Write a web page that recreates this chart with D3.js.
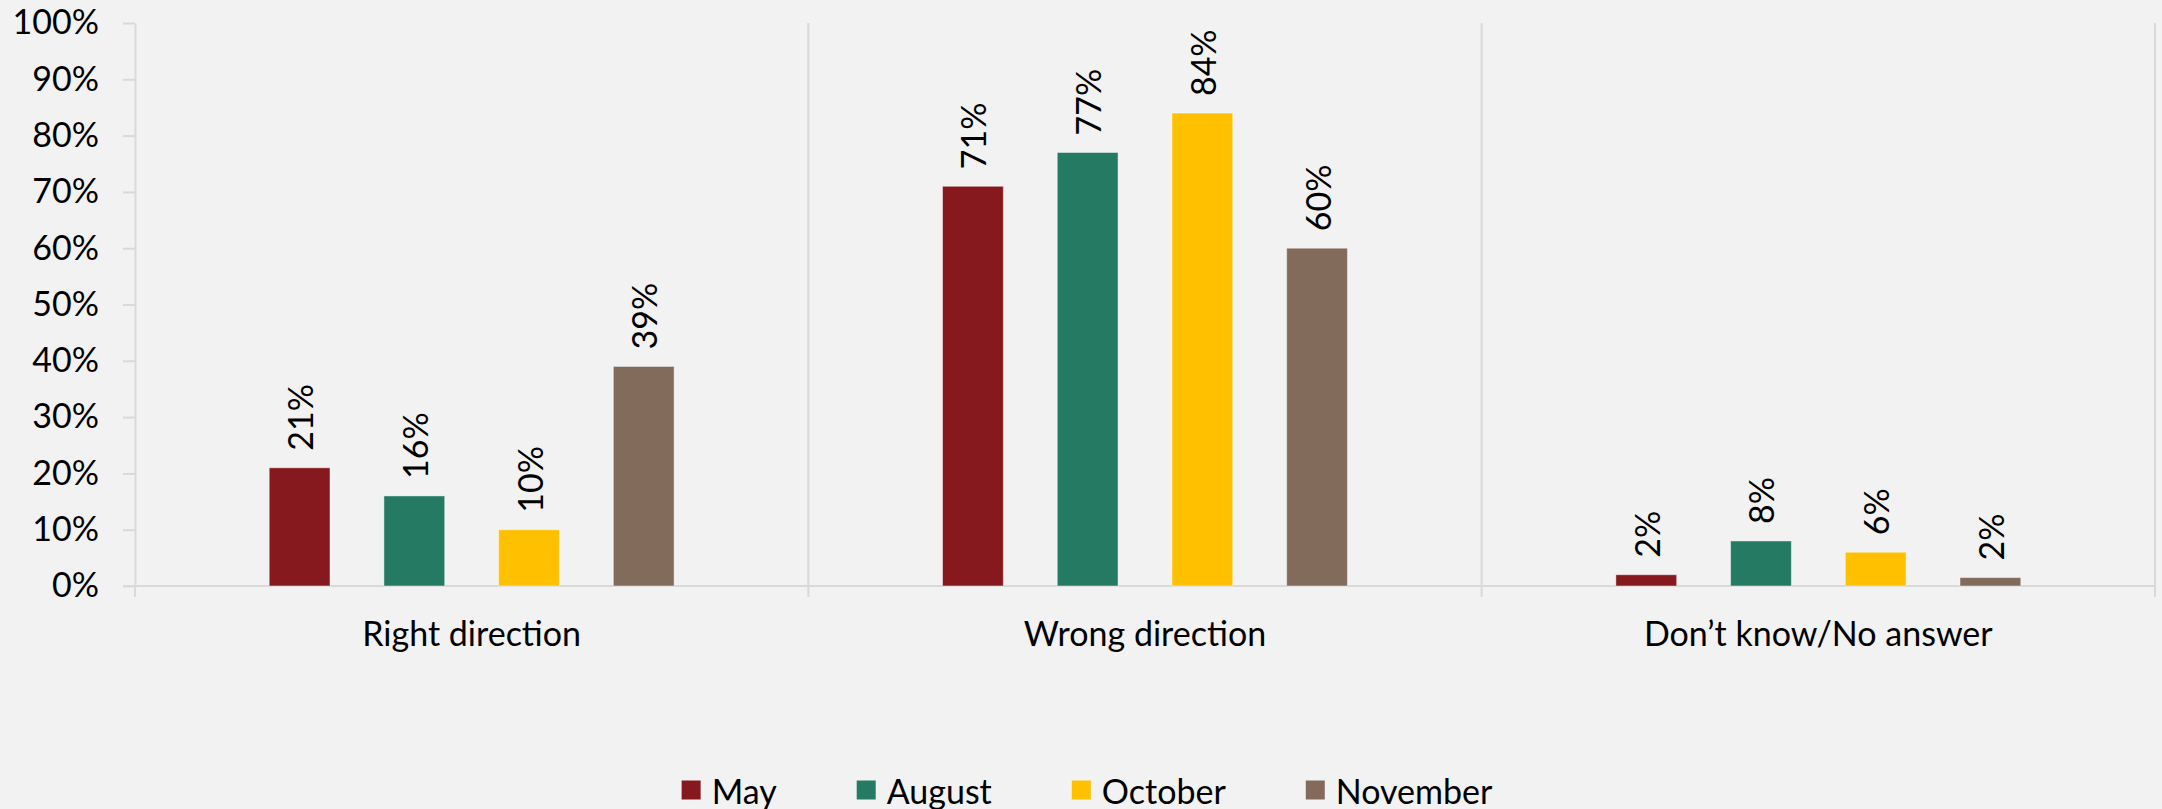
<!DOCTYPE html>
<html>
<head>
<meta charset="utf-8">
<script src="https://cdn.jsdelivr.net/npm/d3@7"></script>
<style>
  html, body { margin: 0; padding: 0; background: #f2f2f2; }
  svg { display: block; }
  text { font-family: Lato, "Open Sans", sans-serif; fill: #000; }
</style>
</head>
<body>
<svg id="chart" width="2162" height="809"></svg>
<script>
//// DATA
const categories = ["Right direction", "Wrong direction", "Don’t know/No answer"]
const series = ["May", "August", "October", "November"]
const mayValues = [21, 71, 2]
const augustValues = [16, 77, 8]
const octoberValues = [10, 84, 6]
const novemberValues = [39, 60, 1.5]
const yTicks = [0, 10, 20, 30, 40, 50, 60, 70, 80, 90, 100]

const seriesColors = ["#85191e", "#247a62", "#ffc000", "#836b5c"]
const gridColor = "#d9d9d9"
const fontSize = 34

const values = [mayValues, augustValues, octoberValues, novemberValues]

// rows of {cat, name, value, color}
const rows = []
categories.forEach((cat, ci) => {
  series.forEach((name, si) => {
    rows.push({cat, name, value: values[si][ci], color: seriesColors[si]})
  })
})

//// LAYOUT
const width = 2162
const plot = {left: 135, right: 2155, top: 23, bottom: 586}
const svg = d3.select("#chart")

const x0 = d3.scaleBand()
  .domain(categories)
  .range([plot.left, plot.right])

const x1 = d3.scaleBand()
  .domain(series)
  .range([0, x0.bandwidth()])
  .paddingInner(0.47)
  .paddingOuter(1.17)

const y = d3.scaleLinear()
  .domain([0, 100])
  .range([plot.bottom, plot.top])

// vertical separators between categories (run a bit below the baseline)
const bounds = categories.map(c => x0(c)).concat([plot.right])
svg.append("g")
  .selectAll("line")
  .data(bounds)
  .join("line")
  .attr("x1", d => d).attr("x2", d => d)
  .attr("y1", (d, i) => i == 0 ? plot.bottom : plot.top)
  .attr("y2", plot.bottom + 11)
  .attr("stroke", gridColor)
  .attr("stroke-width", 2)

// y axis
const yAxis = svg.append("g")
  .attr("transform", `translate(${plot.left},0)`)
  .call(d3.axisLeft(y)
    .tickValues(yTicks)
    .tickFormat(d => d + "%")
    .tickSize(12)
    .tickSizeOuter(0)
    .tickPadding(24))

yAxis.selectAll("path, line")
  .attr("stroke", gridColor)
  .attr("stroke-width", 2)
yAxis.selectAll("text")
  .style("font-size", fontSize + "px")
  .style("font-family", "Lato, 'Open Sans', sans-serif")
  .attr("fill", "#000")

// baseline
svg.append("line")
  .attr("x1", plot.left - 12).attr("x2", plot.right)
  .attr("y1", y(0)).attr("y2", y(0))
  .attr("stroke", gridColor)
  .attr("stroke-width", 2)

// bars
svg.append("g")
  .selectAll("rect")
  .data(rows)
  .join("rect")
  .attr("x", d => x0(d.cat) + x1(d.name))
  .attr("y", d => y(d.value))
  .attr("width", x1.bandwidth())
  .attr("height", d => y(0) - y(d.value))
  .attr("fill", d => d.color)
  .attr("stroke", "rgba(255,255,255,0.45)")
  .attr("stroke-width", 1)

// rotated value labels
svg.append("g")
  .selectAll("text")
  .data(rows)
  .join("text")
  .attr("transform", d => {
    const cx = x0(d.cat) + x1(d.name) + x1.bandwidth() / 2
    return `translate(${cx},${y(d.value) - 17}) rotate(-90)`
  })
  .attr("dominant-baseline", "central")
  .style("font-size", fontSize + "px")
  .text(d => Math.round(d.value) + "%")

// category labels
svg.append("g")
  .selectAll("text")
  .data(categories)
  .join("text")
  .attr("x", d => x0(d) + x0.bandwidth() / 2)
  .attr("y", 646)
  .attr("text-anchor", "middle")
  .style("font-size", fontSize + "px")
  .text(d => d)

// legend, laid out by measured text widths and centred on the whole chart
const legend = svg.append("g")
const swatch = 19
const items = legend.selectAll("g")
  .data(series)
  .join("g")

items.append("rect")
  .attr("width", swatch).attr("height", swatch)
  .attr("y", -swatch / 2)
  .attr("fill", (d, i) => seriesColors[i])

items.append("text")
  .attr("x", swatch + 11)
  .attr("dominant-baseline", "central")
  .style("font-size", fontSize + "px")
  .text(d => d)

let offset = 0
const offsets = []
items.each(function() {
  const w = swatch + 11 + this.querySelector("text").getComputedTextLength()
  offsets.push(offset)
  offset += w + 80
})
const totalWidth = offset - 80
const legendStart = width / 2 - totalWidth / 2 + 6
items.attr("transform", (d, i) => `translate(${legendStart + offsets[i]},790)`)
</script>
</body>
</html>
